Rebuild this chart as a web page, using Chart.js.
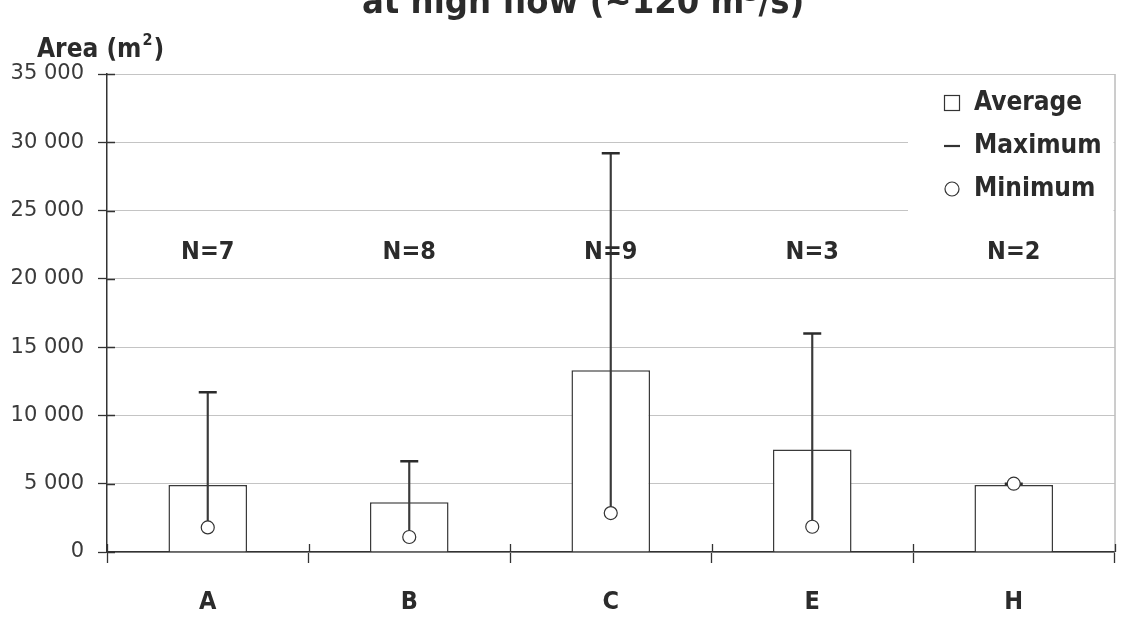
<!DOCTYPE html>
<html>
<head>
<meta charset="utf-8">
<script src="https://cdn.jsdelivr.net/npm/chart.js@4/dist/chart.umd.min.js"></script>
<style>
  html, body { margin: 0; padding: 0; background: #fff; }
  #wrap { width: 1126px; height: 617px; }
</style>
</head>
<body>
<div id="wrap"><canvas id="grafico"></canvas></div>
<script>
const sites = ["A", "B", "C", "E", "H"];
const averageArea = [4900, 3650, 13300, 7500, 4900];
const maximumArea = [11700, 6650, 29200, 16000, 5000];
const minimumArea = [1800, 1100, 2850, 1850, 5000];
const sampleCount = [7, 8, 9, 3, 2];
const yTicks = [0, 5000, 10000, 15000, 20000, 25000, 30000, 35000];

const titleText = "at high flow (~120 m\u00b3/s)";
const yTitle = "Area (m\u00b2)";
const fontCond = "'DejaVu Sans Condensed', 'DejaVu Sans', sans-serif";
const ink = "#2b2b2b";

const ranges = sites.map((s, i) => [minimumArea[i], maximumArea[i]]);

// texts, legend, frame and small inner tick marks
const extras = {
  id: "extras",
  afterDraw(chart) {
    const ctx = chart.ctx;
    const area = chart.chartArea;
    const x = chart.scales.x;
    const y = chart.scales.y;
    ctx.save();

    // right frame
    ctx.strokeStyle = "#9a9a9a";
    ctx.lineWidth = 1;
    ctx.beginPath();
    ctx.moveTo(area.right + 0.5, area.top);
    ctx.lineTo(area.right + 0.5, area.bottom);
    ctx.stroke();

    // inner tick stubs
    ctx.strokeStyle = "#333";
    ctx.lineWidth = 1.3;
    ctx.beginPath();
    yTicks.forEach(v => {
      const py = Math.round(y.getPixelForValue(v)) + 0.5;
      ctx.moveTo(area.left, py);
      ctx.lineTo(area.left + 8, py);
    });
    const step = (area.right - area.left) / sites.length;
    for (let i = 0; i <= sites.length; i++) {
      const px = Math.round(area.left + i * step) + 0.5;
      ctx.moveTo(px, area.bottom);
      ctx.lineTo(px, area.bottom - 8);
    }
    ctx.stroke();

    // N labels
    ctx.fillStyle = ink;
    ctx.font = "bold 25px " + fontCond;
    ctx.textAlign = "center";
    ctx.textBaseline = "middle";
    sites.forEach((s, i) => {
      ctx.fillText("N=" + sampleCount[i], x.getPixelForValue(i), y.getPixelForValue(21900));
    });

    // axis title and cut-off chart title
    ctx.textAlign = "left";
    ctx.textBaseline = "alphabetic";
    ctx.font = "bold 26px " + fontCond;
    ctx.fillText("Area (m", 37, 57);
    const w = ctx.measureText("Area (m").width;
    ctx.font = "bold 16px " + fontCond;
    ctx.fillText("2", 37 + w + 1, 45);
    ctx.font = "bold 26px " + fontCond;
    ctx.fillText(")", 37 + w + 12, 57);
    ctx.font = "bold 36px " + fontCond;
    ctx.fillText(titleText, 362, 13);

    // legend with white box
    const lx = 908, ly = 84;
    ctx.fillStyle = "#fff";
    ctx.fillRect(lx, ly, area.right - lx - 1, 128);
    ctx.font = "bold 26px " + fontCond;
    ctx.textBaseline = "middle";
    const rows = [chart.data.datasets[0], chart.data.datasets[2], chart.data.datasets[3]];
    rows.forEach((ds, i) => {
      const cy = ly + 19 + i * 43;
      ctx.strokeStyle = "#333";
      ctx.lineWidth = 1.2;
      if (i === 0) {
        ctx.strokeRect(944.5, cy - 7.5, 15, 15);
      } else if (i === 1) {
        ctx.lineWidth = 2.2;
        ctx.beginPath();
        ctx.moveTo(944, cy);
        ctx.lineTo(960, cy);
        ctx.stroke();
      } else {
        ctx.beginPath();
        ctx.arc(952, cy, 7, 0, Math.PI * 2);
        ctx.stroke();
      }
      ctx.fillStyle = ink;
      ctx.fillText(ds.label, 974, cy);
    });
    ctx.restore();
  }
};

new Chart(document.getElementById("grafico").getContext("2d"), {
  type: "bar",
  data: {
    labels: sites,
    datasets: [
      {
        label: "Average",
        data: averageArea,
        backgroundColor: "#fff",
        borderColor: "#3a3a3a",
        borderWidth: 1.5,
        barPercentage: 0.39,
        categoryPercentage: 1,
        grouped: false,
        order: 3
      },
      {
        label: "Range",
        data: ranges,
        backgroundColor: "#3a3a3a",
        borderWidth: 0,
        barThickness: 1.5,
        grouped: false,
        order: 2
      },
      {
        type: "line",
        label: "Maximum",
        data: maximumArea,
        showLine: false,
        pointStyle: "line",
        pointRadius: 9,
        pointBorderWidth: 2.5,
        pointBorderColor: "#2b2b2b",
        order: 1
      },
      {
        type: "line",
        label: "Minimum",
        data: minimumArea,
        showLine: false,
        pointStyle: "circle",
        pointRadius: 6.5,
        pointBorderWidth: 1.2,
        pointBorderColor: "#333",
        pointBackgroundColor: "#fff",
        order: 0
      }
    ]
  },
  options: {
    responsive: true,
    maintainAspectRatio: false,
    animation: false,
    layout: { padding: { top: 74, right: 11, left: 0, bottom: 0 } },
    plugins: {
      legend: { display: false },
      title: { display: false },
      tooltip: { enabled: false }
    },
    scales: {
      x: {
        offset: true,
        grid: {
          offset: true,
          drawOnChartArea: false,
          tickLength: 11,
          tickColor: "#333",
          tickWidth: 1.3
        },
        border: { color: "#333", width: 1.5 },
        ticks: {
          color: ink,
          padding: 24,
          font: { family: fontCond, size: 25, weight: "bold" }
        },
        afterFit(scale) { scale.height = 65; }
      },
      y: {
        min: 0,
        max: 35000,
        afterBuildTicks(scale) { scale.ticks = yTicks.map(v => ({ value: v })); },
        grid: {
          color: "#c4c4c4",
          lineWidth: 1,
          tickLength: 9,
          tickColor: "#333",
          tickWidth: 1.3
        },
        border: { color: "#333", width: 1.5 },
        ticks: {
          color: "#3a3a3a",
          padding: 14,
          font: { family: "'DejaVu Sans', sans-serif", size: 21 },
          callback: v => String(v).replace(/\B(?=(\d{3})+(?!\d))/g, " ")
        },
        afterFit(scale) { scale.width = 107; }
      }
    }
  },
  plugins: [extras]
});
</script>
</body>
</html>
